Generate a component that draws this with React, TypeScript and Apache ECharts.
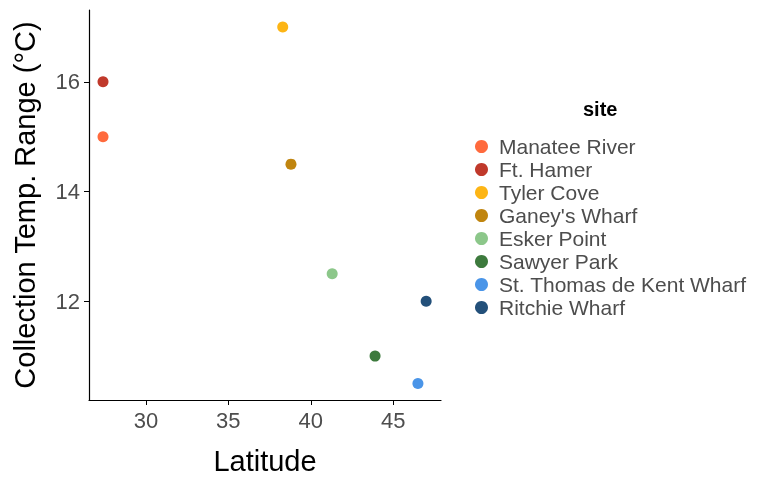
import React, { useEffect, useRef } from "react";
import * as echarts from "echarts";

const sites = ["Manatee River", "Ft. Hamer", "Tyler Cove", "Ganey's Wharf", "Esker Point", "Sawyer Park", "St. Thomas de Kent Wharf", "Ritchie Wharf"];
const latitude = [27.4, 27.4, 38.3, 38.8, 41.3, 43.9, 46.5, 47.0];
const tempRange = [15, 16, 17, 14.5, 12.5, 11, 10.5, 12];
const colors = ["#FF6A3D", "#C0392B", "#FDB515", "#C0850F", "#8CC78A", "#3D7A3D", "#4A95E8", "#23507A"];

export default function App() {
  const ref = useRef<HTMLDivElement>(null);
  useEffect(() => {
    const chart = echarts.init(ref.current!, null, { renderer: "svg" });
    chart.setOption({
      animation: false,
      textStyle: { fontFamily: "Liberation Sans, Arial, sans-serif" },
      grid: { left: 89, top: 10, width: 352, height: 391 },
      xAxis: {
        type: "value", min: 26.55, max: 47.9, interval: 5,
        axisLabel: { fontSize: 22, color: "#4d4d4d", margin: 9, customValues: [30, 35, 40, 45] },
        axisTick: { customValues: [30, 35, 40, 45], length: 5, lineStyle: { color: "#000" } },
        axisLine: { onZero: false, lineStyle: { color: "#000", width: 1.2 } },
        splitLine: { show: false },
        name: "Latitude", nameLocation: "middle", nameGap: 46,
        nameTextStyle: { fontSize: 29, color: "#000" },
      },
      yAxis: {
        type: "value", min: 10.2, max: 17.31,
        axisLabel: { fontSize: 22, color: "#4d4d4d", margin: 9, customValues: [12, 14, 16] },
        axisTick: { customValues: [12, 14, 16], length: 5, lineStyle: { color: "#000" } },
        axisLine: { onZero: false, lineStyle: { color: "#000", width: 1.2 } },
        splitLine: { show: false },
        name: "Collection Temp. Range (°C)", nameLocation: "middle", nameGap: 50,
        nameTextStyle: { fontSize: 29, color: "#000" },
      },
      legend: {
        orient: "vertical", left: 470, top: 131, itemGap: 2,
        icon: "circle", itemWidth: 13, itemHeight: 13,
        textStyle: { fontSize: 21, color: "#4d4d4d", padding: [0, 0, 0, 6] },
        data: sites,
      },
      graphic: [{ type: "text", left: 583, top: 99, style: { text: "site", font: "bold 20px Liberation Sans, Arial, sans-serif", fill: "#000" } }],
      series: sites.map((s, i) => ({
        name: s, type: "scatter", symbolSize: 11,
        itemStyle: { color: colors[i], opacity: 1 },
        data: [[latitude[i], tempRange[i]]],
      })),
    });
    return () => chart.dispose();
  }, []);
  return <div ref={ref} style={{ position: "fixed", left: 0, top: 0, width: 768, height: 480 }} />;
}
